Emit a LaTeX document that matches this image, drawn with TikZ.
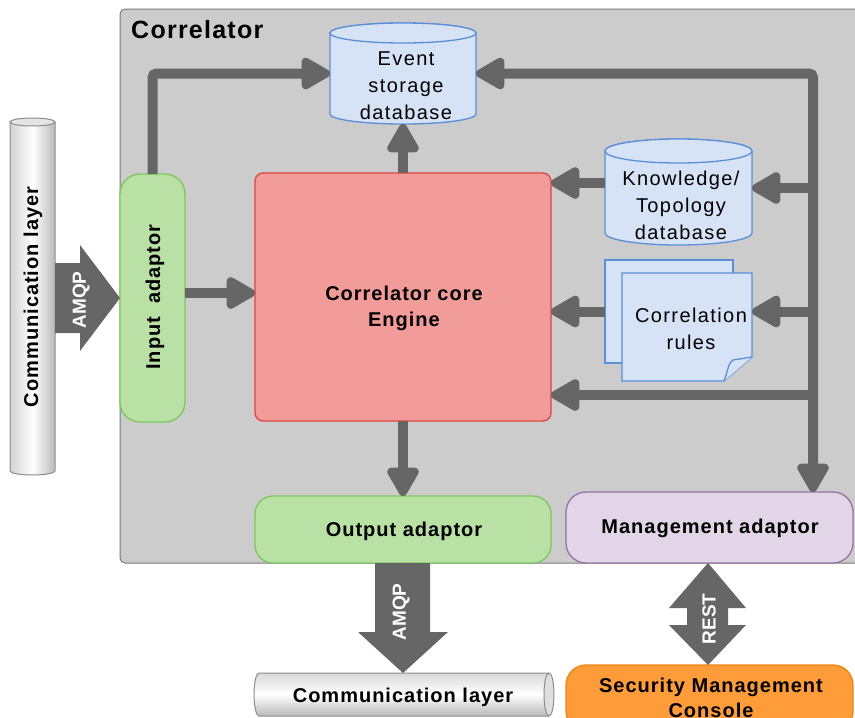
\documentclass[tikz,border=0pt]{standalone}
\usepackage{fontspec}
\setmainfont{Liberation Sans}
\newfontfamily\widesans[LetterSpace=7]{Liberation Sans}
\newfontfamily\widebold[LetterSpace=5]{Liberation Sans}
\usetikzlibrary{arrows.meta,calc}

\definecolor{panel}{HTML}{CCCCCC}
\definecolor{panelline}{HTML}{7A7A7A}
\definecolor{flow}{HTML}{666666}
\definecolor{dbfill}{HTML}{D6E3F6}
\definecolor{dbline}{HTML}{5B8FD8}
\definecolor{corefill}{HTML}{F19C99}
\definecolor{coreline}{HTML}{E0443E}
\definecolor{adfill}{HTML}{B9E0A5}
\definecolor{adline}{HTML}{7CC85A}
\definecolor{mgfill}{HTML}{E1D5E7}
\definecolor{mgline}{HTML}{9673A6}
\definecolor{smfill}{HTML}{FF9C3A}
\definecolor{smline}{HTML}{E8860F}
\definecolor{pipeline}{HTML}{8C8C8C}

\tikzset{
  txt/.style={font=\widesans\fontsize{20}{27}\selectfont, align=center, inner sep=0pt},
  btxt/.style={font=\widebold\fontsize{20}{26}\selectfont\bfseries, align=center, inner sep=0pt},
  blocktxt/.style={font=\fontsize{19}{22}\selectfont\bfseries, text=white, inner sep=0pt},
  shapebox/.style={inner sep=0pt, outer sep=0pt},
  adaptor/.style={shapebox, draw=adline, fill=adfill, line width=1.3pt, rounded corners=20pt},
  dbbody/.style={draw=dbline, fill=dbfill, line width=1.3pt},
  pipe/.style={draw=pipeline, line width=1pt},
  tip/.style={-{Triangle[length=33pt,width=35pt,round]}},
  conn/.style={draw=flow, line width=10pt, tip},
  blockarrow/.style={fill=flow},
}

\begin{document}
\begin{tikzpicture}[x=1pt,y=-1pt]
\useasboundingbox (0,0) rectangle (855,718);

% ---- Correlator container ----
\node[shapebox, draw=panelline, fill=panel, line width=1pt, rounded corners=5pt,
      minimum width=740pt, minimum height=554pt, anchor=north west] (corr) at (120,9) {};
\node[font=\widebold\fontsize{25}{30}\selectfont\bfseries, inner sep=0pt, anchor=base west] (corrtitle) at (131,38) {Correlator};

% ---- Event storage database (cylinder) ----
\node[shapebox, minimum width=146pt, minimum height=101pt] (evdb) at (403,73.5) {};
\path[dbbody] (330,33) -- (330,114) arc (180:0:73 and 10) -- (476,33) arc (0:-180:73 and 10) -- cycle;
\path[dbbody] (403,33) ellipse (73 and 10);
\node[txt] (evdbtxt) at (406,86) {Event\\storage\\database};

% ---- Knowledge / topology database ----
\node[shapebox, minimum width=147pt, minimum height=106pt] (kdb) at (678.5,192) {};
\path[dbbody] (605,151) -- (605,233) arc (180:0:73.5 and 12) -- (752,151) arc (0:-180:73.5 and 12) -- cycle;
\path[dbbody] (678.5,151) ellipse (73.5 and 12);
\node[txt] (kdbtxt) at (681,205) {Knowledge/\\Topology\\database};

% ---- Correlation rules (two stacked sheets) ----
\node[shapebox, dbbody, minimum width=128pt, minimum height=103pt] (rulesback) at (669,311.5) {};
\node[shapebox, minimum width=130pt, minimum height=108pt] (rules) at (687,327) {};
\path[dbbody] (622,273) -- (752,273) -- (752,357) -- (724,381) -- (622,381) -- cycle;
\path[dbbody] (724,381) .. controls (728,371) and (728,363) .. (733,360) -- (752,357);
\node[txt] (rulestxt) at (691,329) {Correlation\\rules};

% ---- Core engine ----
\node[shapebox, draw=coreline, fill=corefill, line width=1.3pt, rounded corners=8pt,
      minimum width=296pt, minimum height=248pt] (core) at (403,297) {};
\node[btxt] (coretxt) at (404,308) {Correlator core\\Engine};

% ---- Adaptors ----
\node[adaptor, minimum width=65pt, minimum height=248pt] (inad) at (152.5,298) {};
\node[btxt, rotate=90] (inadtxt) at (155,297) {Input\ \ adaptor};
\node[adaptor, rounded corners=18pt, minimum width=296pt, minimum height=67pt] (outad) at (403,529.5) {};
\node[btxt] (outadtxt) at (404,531) {Output adaptor};
\node[shapebox, draw=mgline, fill=mgfill, line width=1.3pt, rounded corners=20pt,
      minimum width=287pt, minimum height=71pt] (mgad) at (709.5,527.5) {};
\node[btxt] (mgadtxt) at (710,528) {Management adaptor};

% ---- Security management console ----
\node[shapebox, draw=smline, fill=smfill, line width=1.3pt, rounded corners=20pt,
      minimum width=287pt, minimum height=66pt] (smc) at (709.5,698) {};
\node[btxt, font=\widebold\fontsize{20}{25}\selectfont\bfseries] (smctxt) at (711,697.5) {Security Management\\Console};

% ---- Communication layer pipes ----
\shade[left color=gray!35, right color=gray!55, middle color=white]
  (10,122) -- (10,471) arc (180:0:22.5 and 4) -- (55,122) arc (0:-180:22.5 and 4) -- cycle;
\draw[pipe] (10,122) -- (10,471) arc (180:0:22.5 and 4) -- (55,122);
\draw[pipe, fill=gray!20] (32.5,122) ellipse (22.5 and 4);
\node[shapebox, minimum width=45pt, minimum height=357pt] (commL) at (32.5,296.5) {};
\node[btxt, rotate=90] (commLtxt) at (33,297) {Communication layer};

\shade[top color=gray!30, bottom color=gray!55, middle color=white]
  (549,673) -- (259,673) arc (-90:-270:5 and 21.5) -- (549,716) arc (90:-90:5 and 21.5) -- cycle;
\draw[pipe] (549,673) -- (259,673) arc (-90:-270:5 and 21.5) -- (549,716);
\draw[pipe, fill=gray!25] (549,694.5) ellipse (5 and 21.5);
\node[shapebox, minimum width=300pt, minimum height=43pt] (commB) at (404,694.5) {};
\node[btxt] (commBtxt) at (403,697) {Communication layer};

% ---- Block arrows ----
\path[blockarrow] (commL.east |- 0,263) -- (80,263) -- (80,245) -- (inad.west |- 0,298)
  -- (80,351) -- (80,333) -- (commL.east |- 0,333) -- cycle;
\node[blocktxt, rotate=90] (amqpin) at (81,300) {AMQP};

\path[blockarrow] (375,0 |- outad.south) -- (375,632) -- (358,632) -- (commB.north -| 403,0)
  -- (448,632) -- (430,632) -- (430,0 |- outad.south) -- cycle;
\node[blocktxt, rotate=90] (amqpout) at (401,612) {AMQP};

\path[blockarrow] (mgad.south -| 708,0) -- (746,608) -- (728,608) -- (728,625) -- (746,625)
  -- (smc.north -| 708,0) -- (669,625) -- (687,625) -- (687,608) -- (669,608) -- cycle;
\node[blocktxt, rotate=90] (rest) at (709,619) {REST};

% ---- Flow connectors ----
\coordinate (busx) at (813,0);
\draw[conn, rounded corners=4pt] (inad.north) |- (evdb.west);
\draw[conn] (core.north) -- (evdb.south);
\draw[conn] (inad.east |- 0,293) -- (core.west |- 0,293);
\draw[conn] (core.south) -- (outad.north);
\draw[draw=flow, line width=10pt, rounded corners=4pt,
      {Triangle[length=33pt,width=35pt,round]}-{Triangle[length=33pt,width=35pt,round]}]
  (evdb.east) -| (mgad.north -| busx);
\draw[conn] (busx |- 0,188) -- (kdb.east |- 0,188);
\draw[conn] (kdb.west |- 0,183) -- (core.east |- 0,183);
\draw[conn] (busx |- rulesback.center) -- (rules.east |- rulesback.center);
\draw[conn] (rulesback.west) -- (core.east |- rulesback.west);
\draw[conn] (busx |- 0,395) -- (core.east |- 0,395);

\end{tikzpicture}
\end{document}
